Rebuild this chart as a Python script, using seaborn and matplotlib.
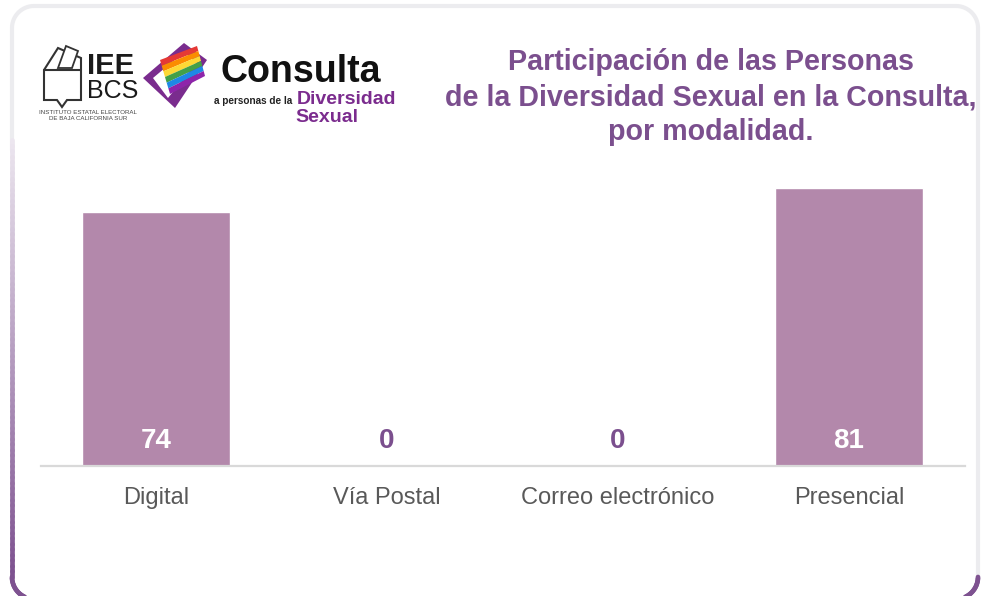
import matplotlib
matplotlib.use("Agg")
import matplotlib.pyplot as plt
import seaborn as sns
import pandas as pd
import numpy as np
from matplotlib.patches import Polygon
from matplotlib.collections import LineCollection
from matplotlib.colors import to_rgb

# chart data
categories = ["Digital", "Vía Postal", "Correo electrónico", "Presencial"]
values = [74, 0, 0, 81]

title_text = ("Participación de las Personas\n"
              "de la Diversidad Sexual en la Consulta,\n"
              "por modalidad.")

bar_color = "#B388AB"
purple = "#7B4F8E"
grey_text = "#595959"

sns.set_theme(style="white")
plt.rcParams["font.family"] = ["Liberation Sans", "DejaVu Sans"]

fig = plt.figure(figsize=(9.81, 5.96), dpi=100)
fig.patch.set_facecolor("white")

# overlay in pixel coords for frame and logos
ov = fig.add_axes([0, 0, 1, 1], zorder=0)
ov.set_xlim(0, 981)
ov.set_ylim(596, 0)
ov.axis("off")


def arc(cx, cy, r, a0, a1, n=20):
    a = np.linspace(a0, a1, n)
    return list(zip(cx + r * np.cos(a), cy + r * np.sin(a)))


# light grey rounded frame (y grows downward here)
r = 22
x0, x1, y0, y1 = 12, 978, 6, 599
frame_pts = ([(x0, 150), (x0, y0 + r)] + arc(x0 + r, y0 + r, r, np.pi, 1.5 * np.pi)
             + [(x1 - r, y0)] + arc(x1 - r, y0 + r, r, 1.5 * np.pi, 2 * np.pi)
             + [(x1, y1 - r)])
ov.plot(*zip(*frame_pts), color="#ECECEF", lw=3, solid_capstyle="round")

# purple gradient along the left edge and bottom corners
ys = np.linspace(140, y1 - r, 80)
c0, c1 = np.array(to_rgb("#ECE6EF")), np.array(to_rgb("#7E5290"))
segs, cols = [], []
for i in range(len(ys) - 1):
    t = i / (len(ys) - 2)
    segs.append([(x0, ys[i]), (x0, ys[i + 1])])
    cols.append(c0 * (1 - t) + c1 * t)
bl = arc(x0 + r, y1 - r, r, np.pi, 0.5 * np.pi)
br = arc(x1 - r, y1 - r, r, 0, 0.5 * np.pi)
for pts in (bl, br):
    for i in range(len(pts) - 1):
        segs.append([pts[i], pts[i + 1]])
        cols.append(c1)
ov.add_collection(LineCollection(segs, colors=cols, linewidths=3.4, capstyle="round"))

# IEE BCS logo (simplified ballot box)
box = Polygon([(44, 70), (58, 48), (81, 58), (81, 100), (67, 100), (62, 107), (57, 100),
               (44, 100)], closed=True, fill=False, edgecolor="#333333", lw=1.5)
ov.add_patch(box)
ov.plot([44, 81], [70, 70], color="#333333", lw=1.5)
ov.add_patch(Polygon([(58, 68), (66, 46), (78, 51), (72, 68)], closed=True,
                     facecolor="white", edgecolor="#333333", lw=1.3))
ov.text(87, 66, "IEE", fontsize=21, fontweight="bold", color="#1A1A1A", va="center", ha="left")
ov.text(87, 91, "BCS", fontsize=18, color="#1A1A1A", va="center", ha="left")
ov.text(88, 113, "INSTITUTO ESTATAL ELECTORAL", fontsize=4.4, color="#444444", va="center", ha="center")
ov.text(88, 118.5, "DE BAJA CALIFORNIA SUR", fontsize=4.4, color="#444444", va="center", ha="center")

# rainbow flag logo
ov.add_patch(Polygon([(143, 78), (184, 43), (207, 60), (175, 108)], closed=True,
                     facecolor="#7A2C8E", edgecolor="none"))
ov.add_patch(Polygon([(153, 78), (184, 52), (196, 63), (168, 98)], closed=True,
                     facecolor="white", edgecolor="none"))
rainbow = ["#E53935", "#FB8C00", "#FDD835", "#43A047", "#1E88E5", "#8E24AA"]
A, B = np.array([160.0, 60.0]), np.array([197.0, 46.0])
D, C = np.array([170.0, 94.0]), np.array([205.0, 76.0])
for k, col in enumerate(rainbow):
    t0, t1 = k / 6, (k + 1) / 6
    p0, p1 = A + (D - A) * t0, B + (C - B) * t0
    p2, p3 = B + (C - B) * t1, A + (D - A) * t1
    ov.add_patch(Polygon([p0, p1, p2, p3], closed=True, facecolor=col, edgecolor="none"))

ov.text(221, 72, "Consulta", fontsize=27, fontweight="bold", color="#111111", va="center", ha="left")
ov.text(214, 101, "a personas de la", fontsize=7.2, fontweight="bold", color="#222222",
        va="center", ha="left")
ov.text(297, 100, "Diversidad", fontsize=14, fontweight="bold", color="#7B2C8E",
        va="center", ha="left")
ov.text(327, 118, "Sexual", fontsize=14, fontweight="bold", color="#7B2C8E",
        va="center", ha="center")

# title
ov.text(711, 97, title_text, fontsize=20.6, fontweight="bold", color=purple,
        ha="center", va="center", linespacing=1.31)

# bar chart
ax = fig.add_axes([40.5 / 981, 1 - 466 / 596, 924 / 981, 316 / 596], zorder=1)
ax.patch.set_alpha(0)
df = pd.DataFrame({"modalidad": categories, "personas": values})
sns.barplot(data=df, x="modalidad", y="personas", color=bar_color, saturation=1,
            width=0.645, ax=ax)
ax.set_xlim(-0.5, 3.5)
ax.set_ylim(0, 92)
ax.set_xlabel("")
ax.set_ylabel("")
ax.set_yticks([])
for s in ["top", "right", "left"]:
    ax.spines[s].set_visible(False)
ax.spines["bottom"].set_color("#D9D9D9")
ax.spines["bottom"].set_linewidth(1.6)
ax.tick_params(axis="x", length=0, pad=15, labelsize=17, labelcolor=grey_text)

for i, v in enumerate(values):
    ax.text(i, 7.3, f"{v}", ha="center", va="center", fontsize=20, fontweight="bold",
            color="white" if v > 0 else purple)

fig.savefig("out.png", dpi=100, facecolor="white")
